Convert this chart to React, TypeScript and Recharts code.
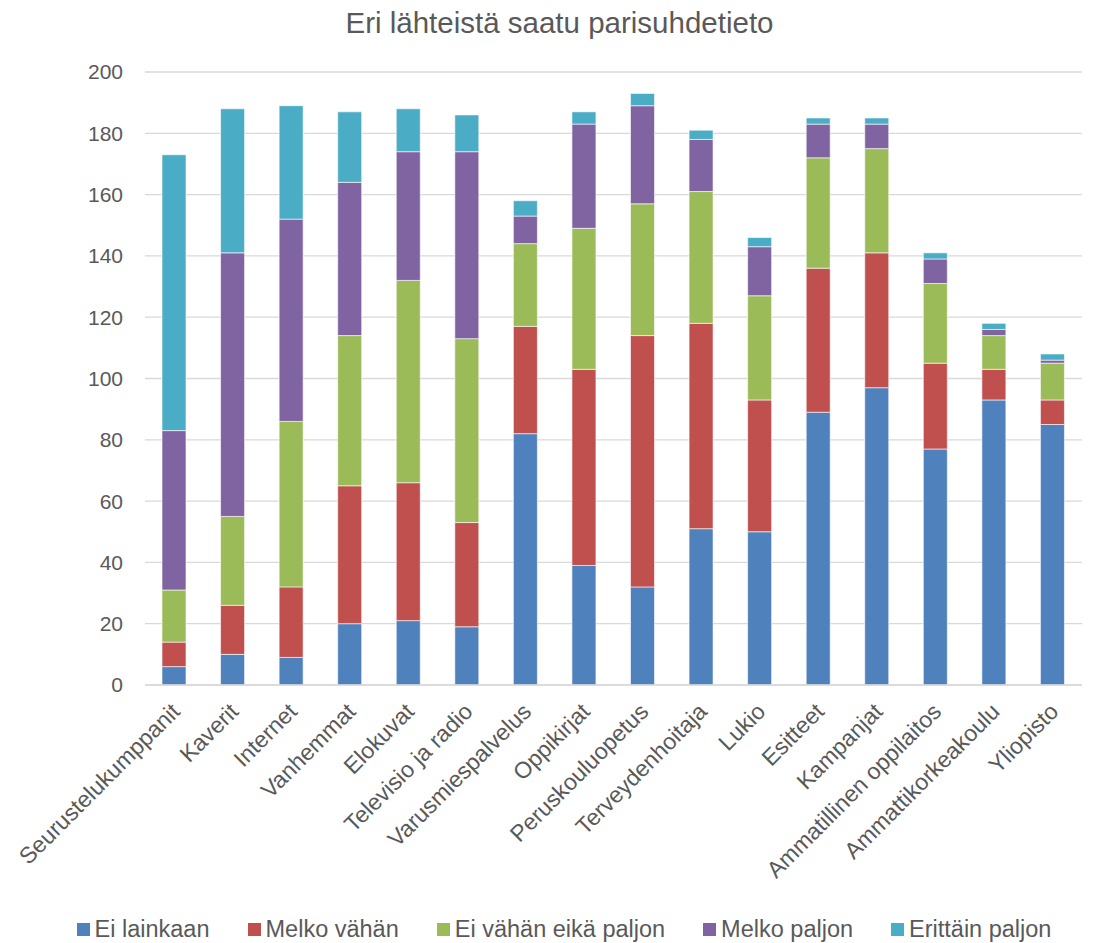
import { BarChart, Bar, XAxis, YAxis, CartesianGrid, Legend } from "recharts";

const categories = [
  "Seurustelukumppanit",
  "Kaverit",
  "Internet",
  "Vanhemmat",
  "Elokuvat",
  "Televisio ja radio",
  "Varusmiespalvelus",
  "Oppikirjat",
  "Peruskouluopetus",
  "Terveydenhoitaja",
  "Lukio",
  "Esitteet",
  "Kampanjat",
  "Ammatillinen oppilaitos",
  "Ammattikorkeakoulu",
  "Yliopisto",
];

const eiLainkaan = [6, 10, 9, 20, 21, 19, 82, 39, 32, 51, 50, 89, 97, 77, 93, 85];
const melkoVahan = [8, 16, 23, 45, 45, 34, 35, 64, 82, 67, 43, 47, 44, 28, 10, 8];
const eiVahanEikaPaljon = [17, 29, 54, 49, 66, 60, 27, 46, 43, 43, 34, 36, 34, 26, 11, 12];
const melkoPaljon = [52, 86, 66, 50, 42, 61, 9, 34, 32, 17, 16, 11, 8, 8, 2, 1];
const erittainPaljon = [90, 47, 37, 23, 14, 12, 5, 4, 4, 3, 3, 2, 2, 2, 2, 2];

const yTicks = [0, 20, 40, 60, 80, 100, 120, 140, 160, 180, 200];

const series = [
  { key: "ei", name: "Ei lainkaan", color: "#4F81BD", values: eiLainkaan },
  { key: "mv", name: "Melko vähän", color: "#C0504D", values: melkoVahan },
  { key: "evep", name: "Ei vähän eikä paljon", color: "#9BBB59", values: eiVahanEikaPaljon },
  { key: "mp", name: "Melko paljon", color: "#8064A2", values: melkoPaljon },
  { key: "ep", name: "Erittäin paljon", color: "#4BACC6", values: erittainPaljon },
];

const data = categories.map((name, i) => {
  const row: any = { name };
  series.forEach((s) => {
    row[s.key] = s.values[i];
  });
  return row;
});

const font = "'Liberation Sans', Arial, sans-serif";

function AngledTick(props: any) {
  const { x, y, payload } = props;
  return (
    <g transform={`translate(${x + 7},${y + 20})`}>
      <text
        textAnchor="end"
        transform="rotate(-45)"
        fontSize={23}
        fill="#595959"
        fontFamily={font}
      >
        {payload.value}
      </text>
    </g>
  );
}

function LegendContent() {
  return (
    <div
      style={{
        height: 28,
        display: "flex",
        justifyContent: "center",
        alignItems: "center",
        paddingLeft: 46,
        fontFamily: font,
        fontSize: 23.5,
        color: "#595959",
      }}
    >
      {series.map((s) => (
        <div key={s.key} style={{ display: "flex", alignItems: "center", margin: "0 19px" }}>
          <span style={{ width: 13, height: 13, background: s.color, marginRight: 5, display: "inline-block" }} />
          <span>{s.name}</span>
        </div>
      ))}
    </div>
  );
}

export default function App() {
  return (
    <div style={{ position: "absolute", left: 0, top: 0, width: 1095, height: 943, background: "#fff" }}>
      <div
        style={{
          position: "absolute",
          top: 6,
          left: 12,
          width: 1095,
          textAlign: "center",
          fontFamily: font,
          fontSize: 29.5,
          color: "#595959",
        }}
      >
        Eri lähteistä saatu parisuhdetieto
      </div>
      <BarChart
        width={1095}
        height={943}
        data={data}
        margin={{ top: 72, right: 13, left: 0, bottom: 0 }}
        barSize={24}
      >
        <CartesianGrid vertical={false} stroke="#D9D9D9" strokeWidth={1.3} />
        <XAxis
          dataKey="name"
          interval={0}
          tick={<AngledTick />}
          tickLine={false}
          axisLine={{ stroke: "#D9D9D9", strokeWidth: 1.3 }}
          height={230}
        />
        <YAxis
          width={145}
          domain={[0, 200]}
          ticks={yTicks}
          tickLine={false}
          axisLine={false}
          tick={{ fontSize: 21, fill: "#595959", fontFamily: font }}
          tickMargin={16}
        />
        <Legend verticalAlign="bottom" align="center" content={<LegendContent />} />
        {series.map((s) => (
          <Bar
            key={s.key}
            dataKey={s.key}
            name={s.name}
            stackId="a"
            fill={s.color}
            stroke="#ffffff"
            strokeWidth={0.6}
            isAnimationActive={false}
          />
        ))}
      </BarChart>
    </div>
  );
}
